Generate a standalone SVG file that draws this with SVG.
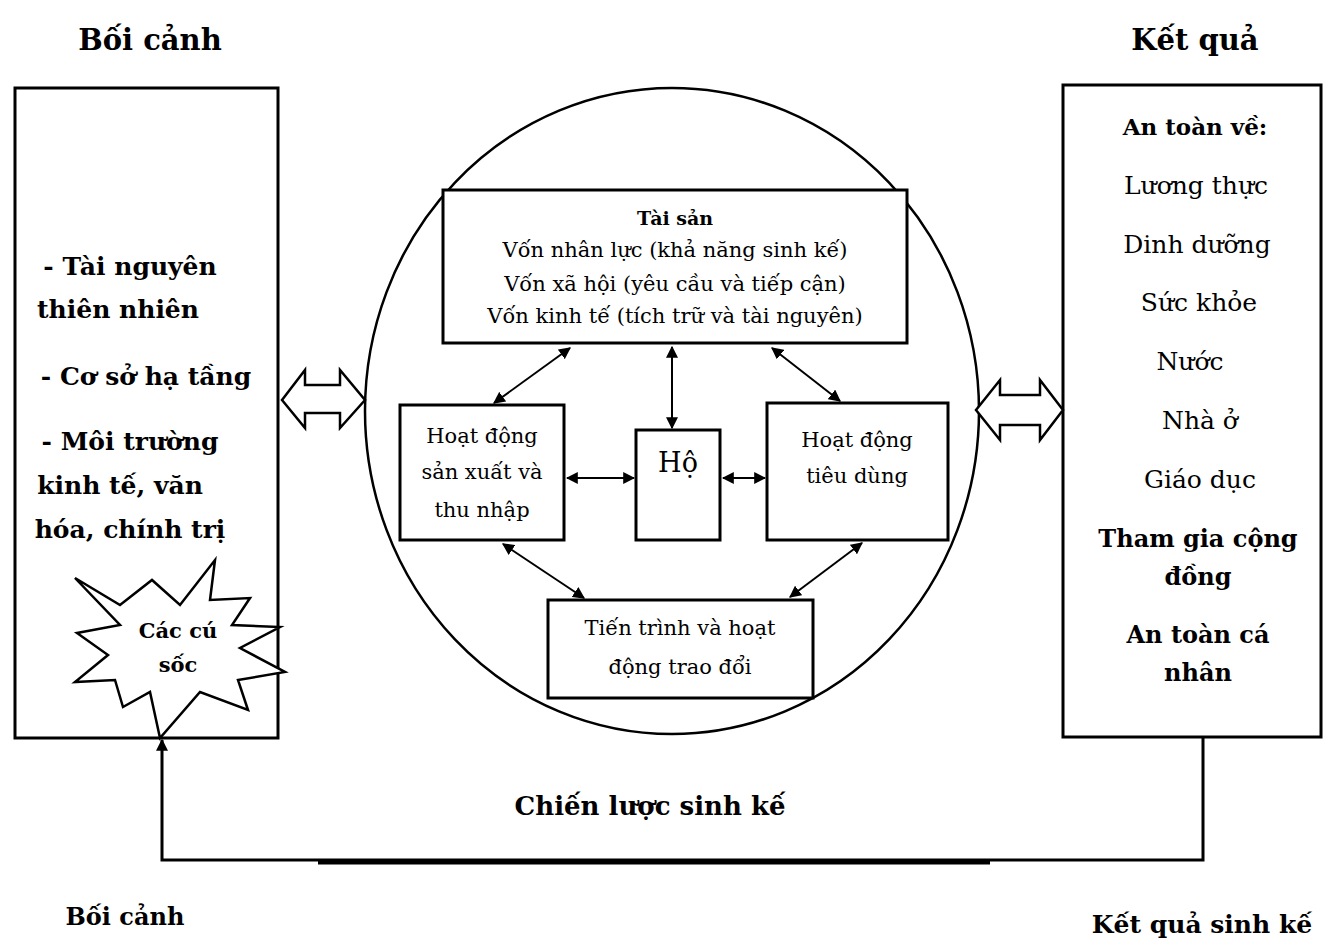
<svg xmlns="http://www.w3.org/2000/svg" width="1325" height="941" viewBox="0 0 1325 941">
<style>
.t{font-family:"DejaVu Serif","Liberation Serif",serif;fill:#000;text-anchor:middle}
.b{font-weight:bold}
.box{fill:#fff;stroke:#000;stroke-width:3}
.ln{stroke:#000;stroke-width:2;fill:none}
</style>
<defs>
<marker id="ah2" viewBox="0 0 10 10" refX="9" refY="5" markerWidth="12" markerHeight="12" orient="auto-start-reverse" markerUnits="userSpaceOnUse">
<path d="M0,0 L10,5 L0,10 z" fill="#000"/>
</marker>
</defs>
<rect width="1325" height="941" fill="#fff"/>

<text class="t b" x="150" y="50" font-size="29">Bối cảnh</text>
<text class="t b" x="1195" y="50" font-size="29">Kết quả</text>

<g id="context">
<rect class="box" x="15" y="88" width="263" height="650"/>
<text class="t b" font-size="25" x="130" y="275">- Tài nguyên</text>
<text class="t b" font-size="25" x="118" y="318">thiên nhiên</text>
<text class="t b" font-size="25" x="146" y="385">- Cơ sở hạ tầng</text>
<text class="t b" font-size="25" x="130" y="450">- Môi trường</text>
<text class="t b" font-size="25" x="120" y="494">kinh tế, văn</text>
<text class="t b" font-size="25" x="130" y="538">hóa, chính trị</text>
</g>

<g id="shocks">
<polygon fill="#fff" stroke="#000" stroke-width="2.5" points="75,578 120,605 152,580 180,605 215,560 210,600 250,598 232,625 280,627 240,648 285,672 238,680 248,710 200,692 160,738 150,692 123,707 115,680 75,682 108,655 77,633 120,625"/>
<text class="t b" font-size="21" x="178" y="638">Các cú</text>
<text class="t b" font-size="21" x="178" y="672">sốc</text>
</g>

<g id="household-system">
<ellipse cx="672" cy="411" rx="307" ry="323" fill="none" stroke="#000" stroke-width="2.5"/>
</g>

<g id="assets">
<rect class="box" x="443" y="190" width="464" height="153"/>
<text class="t b" font-size="19" x="675" y="225">Tài sản</text>
<text class="t" font-size="21" x="675" y="257">Vốn nhân lực (khả năng sinh kế)</text>
<text class="t" font-size="21" x="675" y="291">Vốn xã hội (yêu cầu và tiếp cận)</text>
<text class="t" font-size="21" x="675" y="323">Vốn kinh tế (tích trữ và tài nguyên)</text>
</g>

<g id="production">
<rect class="box" x="400" y="405" width="164" height="135"/>
<text class="t" font-size="21" x="482" y="443">Hoạt động</text>
<text class="t" font-size="21" x="482" y="479">sản xuất và</text>
<text class="t" font-size="21" x="482" y="517">thu nhập</text>
</g>

<g id="household">
<rect class="box" x="636" y="430" width="84" height="110"/>
<text class="t" font-size="27" x="678" y="472">Hộ</text>
</g>

<g id="consumption">
<rect class="box" x="767" y="403" width="181" height="137"/>
<text class="t" font-size="21" x="857" y="447">Hoạt động</text>
<text class="t" font-size="21" x="857" y="483">tiêu dùng</text>
</g>

<g id="exchange">
<rect class="box" x="548" y="600" width="265" height="98"/>
<text class="t" font-size="21" x="680" y="635">Tiến trình và hoạt</text>
<text class="t" font-size="21" x="680" y="674">động trao đổi</text>
</g>

<g id="outcomes">
<rect class="box" x="1063" y="85" width="258" height="652"/>
<text class="t b" font-size="23" x="1195" y="135">An toàn về:</text>
<text class="t" font-size="25" x="1196" y="194">Lương thực</text>
<text class="t" font-size="25" x="1197" y="253">Dinh dưỡng</text>
<text class="t" font-size="25" x="1199" y="311">Sức khỏe</text>
<text class="t" font-size="25" x="1190" y="370">Nước</text>
<text class="t" font-size="25" x="1200" y="429">Nhà ở</text>
<text class="t" font-size="25" x="1200" y="488">Giáo dục</text>
<text class="t b" font-size="24" x="1198" y="547">Tham gia cộng</text>
<text class="t b" font-size="24" x="1198" y="585">đồng</text>
<text class="t b" font-size="24" x="1198" y="643">An toàn cá</text>
<text class="t b" font-size="24" x="1198" y="681">nhân</text>
</g>

<g id="connectors">
<polygon fill="#fff" stroke="#000" stroke-width="2.5" points="282,400 305,370 305,385 340,385 340,370 365,400 340,428 340,413 305,413 305,428"/>
<polygon fill="#fff" stroke="#000" stroke-width="2.5" points="976,410 1000,380 1000,395 1040,395 1040,380 1063,410 1040,440 1040,425 1000,425 1000,440"/>
<line class="ln" x1="570" y1="348" x2="494" y2="403" marker-start="url(#ah2)" marker-end="url(#ah2)"/>
<line class="ln" x1="672" y1="347" x2="672" y2="428" marker-start="url(#ah2)" marker-end="url(#ah2)"/>
<line class="ln" x1="772" y1="348" x2="840" y2="401" marker-start="url(#ah2)" marker-end="url(#ah2)"/>
<line class="ln" x1="567" y1="478" x2="634" y2="478" marker-start="url(#ah2)" marker-end="url(#ah2)"/>
<line class="ln" x1="723" y1="478" x2="765" y2="478" marker-start="url(#ah2)" marker-end="url(#ah2)"/>
<line class="ln" x1="503" y1="544" x2="584" y2="598" marker-start="url(#ah2)" marker-end="url(#ah2)"/>
<line class="ln" x1="862" y1="543" x2="790" y2="597" marker-start="url(#ah2)" marker-end="url(#ah2)"/>
<path d="M1203,737 V860 H162 V740" fill="none" stroke="#000" stroke-width="3" marker-end="url(#ah2)"/>
<line x1="318" y1="862" x2="990" y2="862" stroke="#000" stroke-width="5"/>
</g>

<text class="t b" font-size="26" x="650" y="815">Chiến lược sinh kế</text>
<text class="t b" font-size="24" x="125" y="925">Bối cảnh</text>
<text class="t b" font-size="25" x="1202" y="933">Kết quả sinh kế</text>
</svg>
